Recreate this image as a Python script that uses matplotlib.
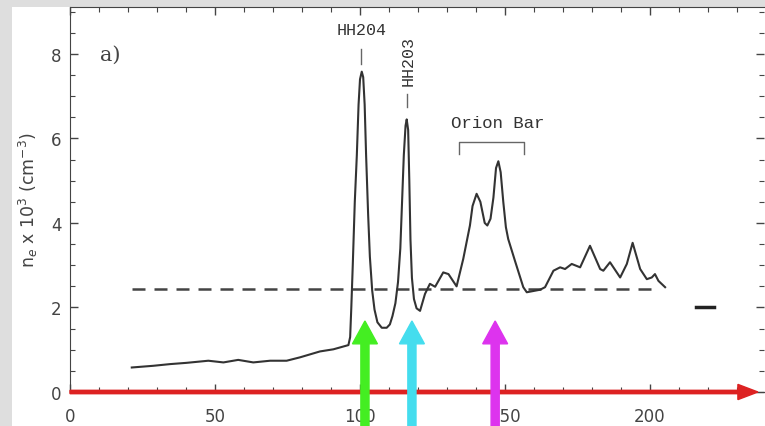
import matplotlib
matplotlib.use("Agg")
import matplotlib.pyplot as plt
from matplotlib.patches import FancyArrow, Rectangle

# electron density profile (n_e x 10^3 cm^-3) against position
pos = [21.3, 28.7, 34.5, 40.2, 47.7, 52.9, 58.0, 63.2, 69.0, 74.7, 79.3, 86.2, 90.8, 96.0,
       96.6, 97.0, 97.5, 98.2, 98.9, 99.5, 100.0, 100.6, 101.1, 101.6, 102.1, 102.8, 103.4,
       104.2, 105.0, 106.0, 107.5, 109.2, 110.3, 111.2, 112.2, 113.1, 113.9, 114.5, 115.1,
       115.7, 116.1, 116.6, 117.0, 117.4, 117.9, 118.6, 119.5, 120.7, 122.4,
       124.1, 125.9, 128.7, 130.5, 133.3, 135.6, 137.9, 138.8, 140.2, 141.5, 143.0, 143.9,
       145.0, 146.0, 146.9, 147.7, 148.5, 149.4, 150.3,
       151.1, 153.4, 156.3, 157.5, 162.1, 163.8, 166.7, 169.0, 170.7, 173.0, 175.9, 179.3,
       182.8, 183.9, 186.2, 189.7, 192.0, 194.0, 196.6, 198.9, 200.6, 201.7, 202.9, 205.2]
dens = [0.58, 0.62, 0.66, 0.69, 0.74, 0.70, 0.76, 0.70, 0.74, 0.74, 0.82, 0.96, 1.01, 1.11,
        1.30, 2.00, 3.00, 4.50, 5.60, 6.80, 7.40, 7.58, 7.45, 6.80, 5.60, 4.20, 3.20,
        2.40, 1.95, 1.65, 1.52, 1.52, 1.60, 1.80, 2.10, 2.60, 3.40, 4.50, 5.60,
        6.30, 6.45, 6.20, 5.00, 3.60, 2.70, 2.20, 1.98, 1.92, 2.32,
        2.56, 2.49, 2.83, 2.79, 2.50, 3.15, 3.94, 4.40, 4.69, 4.50, 4.00, 3.94,
        4.10, 4.60, 5.30, 5.46, 5.20, 4.50, 3.90,
        3.62, 3.11, 2.48, 2.36, 2.42, 2.48, 2.87, 2.95, 2.91, 3.03, 2.95, 3.46,
        2.91, 2.87, 3.07, 2.71, 3.03, 3.53, 2.91, 2.67, 2.71, 2.79, 2.63, 2.48]

mean_level = 2.44
mean_span = [21.5, 203.5]
err_span = [216, 222]
err_level = 2.0

arrow_x = [101.7, 117.9, 146.6]
arrow_colors = ["#44ee22", "#44ddee", "#dd33ee"]
arrow_tip = 1.68

xticks = [0, 50, 100, 150, 200]
yticks = [0, 2, 4, 6, 8]

fig = plt.figure(figsize=(7.65, 4.27), dpi=100, facecolor="#dedede")
fig.patches.append(Rectangle((12 / 765, 0), 1, (427 - 8) / 427, transform=fig.transFigure,
                             facecolor="white", edgecolor="none", zorder=-5))
ax = fig.add_axes([70 / 765, 34 / 427, 694 / 765, 385 / 427])
ax.set_zorder(1)
ax.set_xlim(0, 239.3)
ax.set_ylim(0, 9.11)

ax.plot(pos, dens, color="#333333", lw=1.5, zorder=3)
ax.plot(mean_span, [mean_level, mean_level], color="#444444", lw=1.8,
        dashes=(5.2, 3.6), zorder=2)
ax.plot(err_span, [err_level, err_level], color="#222222", lw=2.5)

# red baseline arrow
ax.add_patch(FancyArrow(0, 0, 237.2, 0, width=0.08, head_width=0.36, head_length=6.9,
                        length_includes_head=True, color="#dd2222", clip_on=False, zorder=4))
for x, c in zip(arrow_x, arrow_colors):
    ax.add_patch(FancyArrow(x, -1.2, 0, arrow_tip + 1.2, width=2.8, head_width=8.6,
                            head_length=0.54, length_includes_head=True, color=c,
                            clip_on=False, zorder=5))

mono = "Liberation Mono"
ax.text(100.6, 8.57, "HH204", ha="center", va="center", fontsize=12, family=mono, color="#333")
ax.plot([100.2, 100.2], [7.76, 8.12], color="#666", lw=1)
ax.text(116.6, 7.86, "HH203", ha="center", va="center", rotation=90, fontsize=12,
        family=mono, color="#333")
ax.plot([116.3, 116.3], [6.75, 7.05], color="#666", lw=1)
ax.text(147.6, 6.37, "Orion Bar", ha="center", va="center", fontsize=12.5, family=mono,
        color="#333")
ax.plot([134.1, 134.1, 156.6, 156.6], [5.63, 5.92, 5.92, 5.63], color="#666", lw=1)
ax.text(10.5, 8.0, "a)", ha="left", va="center", fontsize=15, family="DejaVu Serif",
        color="#444")

ax.set_ylabel("n$_e$ x 10$^3$ (cm$^{-3}$)", fontsize=12.5, color="#444", labelpad=8)

ax.set_xticks(xticks)
ax.set_yticks(yticks)
ax.set_xticks(range(0, 240, 10), minor=True)
ax.set_yticks([i * 0.5 for i in range(19)], minor=True)
ax.tick_params(which="both", direction="in", top=True, right=True, colors="#444",
               labelsize=12)
ax.tick_params(which="major", length=6, width=1)
ax.tick_params(which="minor", length=3.5, width=0.8)
ax.tick_params(axis="x", pad=11)
ax.tick_params(axis="y", pad=6)
ax.spines["right"].set_visible(False)
for s in ["left", "top", "bottom"]:
    ax.spines[s].set_color("#444")

fig.savefig("out.png", dpi=100, facecolor=fig.get_facecolor())
